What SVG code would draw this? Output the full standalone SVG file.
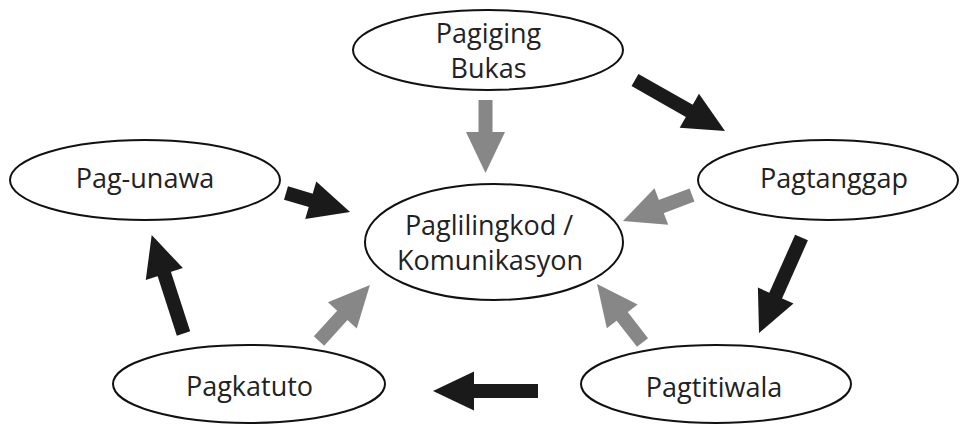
<svg xmlns="http://www.w3.org/2000/svg" width="961" height="424" viewBox="0 0 961 424">
  <style>
    .node ellipse { fill: #ffffff; stroke: #111111; stroke-width: 2; }
    .node text { font-family: "Open Sans", "Noto Sans", "DejaVu Sans", sans-serif; font-size: 27px; fill: #222222; text-anchor: middle; }
    .dark { stroke: #1a1a1a; stroke-width: 14; fill: none; marker-end: url(#headDark); }
    .gray { stroke: #878787; stroke-width: 14; fill: none; marker-end: url(#headGray); }
  </style>
  <defs>
    <marker id="headDark" markerUnits="userSpaceOnUse" markerWidth="42" markerHeight="40" refX="1" refY="19.5" orient="auto" overflow="visible">
      <path d="M0,0 L41,19.5 L0,39 Z" fill="#1a1a1a"/>
    </marker>
    <marker id="headGray" markerUnits="userSpaceOnUse" markerWidth="42" markerHeight="40" refX="1" refY="19.5" orient="auto" overflow="visible">
      <path d="M0,0 L41,19.5 L0,39 Z" fill="#878787"/>
    </marker>
  </defs>

  <g id="connectors">
    <line class="gray" x1="485.5" y1="100" x2="485.5" y2="133"/>
    <line class="dark" x1="635" y1="80" x2="690.2" y2="111.3"/>
    <line class="dark" x1="286" y1="193" x2="311.7" y2="200.6"/>
    <line class="gray" x1="692" y1="195" x2="660.4" y2="206.9"/>
    <line class="dark" x1="801.5" y1="237.5" x2="775.3" y2="296.4"/>
    <line class="gray" x1="642.5" y1="342.5" x2="621.6" y2="315.6"/>
    <line class="dark" x1="538" y1="391" x2="473" y2="391"/>
    <line class="dark" x1="183.5" y1="333.5" x2="164" y2="273.1"/>
    <line class="gray" x1="319" y1="341" x2="343" y2="314.6"/>
  </g>

  <g id="pagiging-bukas" class="node">
    <ellipse cx="488" cy="50" rx="135" ry="40"/>
    <text x="488.5" y="43">Pagiging</text>
    <text x="488.5" y="78">Bukas</text>
  </g>

  <g id="pag-unawa" class="node">
    <ellipse cx="145" cy="180" rx="135" ry="40"/>
    <text x="145" y="188">Pag-unawa</text>
  </g>

  <g id="paglilingkod" class="node">
    <ellipse cx="494" cy="242" rx="129" ry="58"/>
    <text x="489" y="235">Paglilingkod /</text>
    <text x="490" y="270">Komunikasyon</text>
  </g>

  <g id="pagtanggap" class="node">
    <ellipse cx="828" cy="180" rx="130" ry="40"/>
    <text x="834" y="188">Pagtanggap</text>
  </g>

  <g id="pagkatuto" class="node">
    <ellipse cx="249" cy="384" rx="136" ry="39"/>
    <text x="249.5" y="396">Pagkatuto</text>
  </g>

  <g id="pagtitiwala" class="node">
    <ellipse cx="716" cy="384" rx="135" ry="39"/>
    <text x="714" y="397">Pagtitiwala</text>
  </g>
</svg>
